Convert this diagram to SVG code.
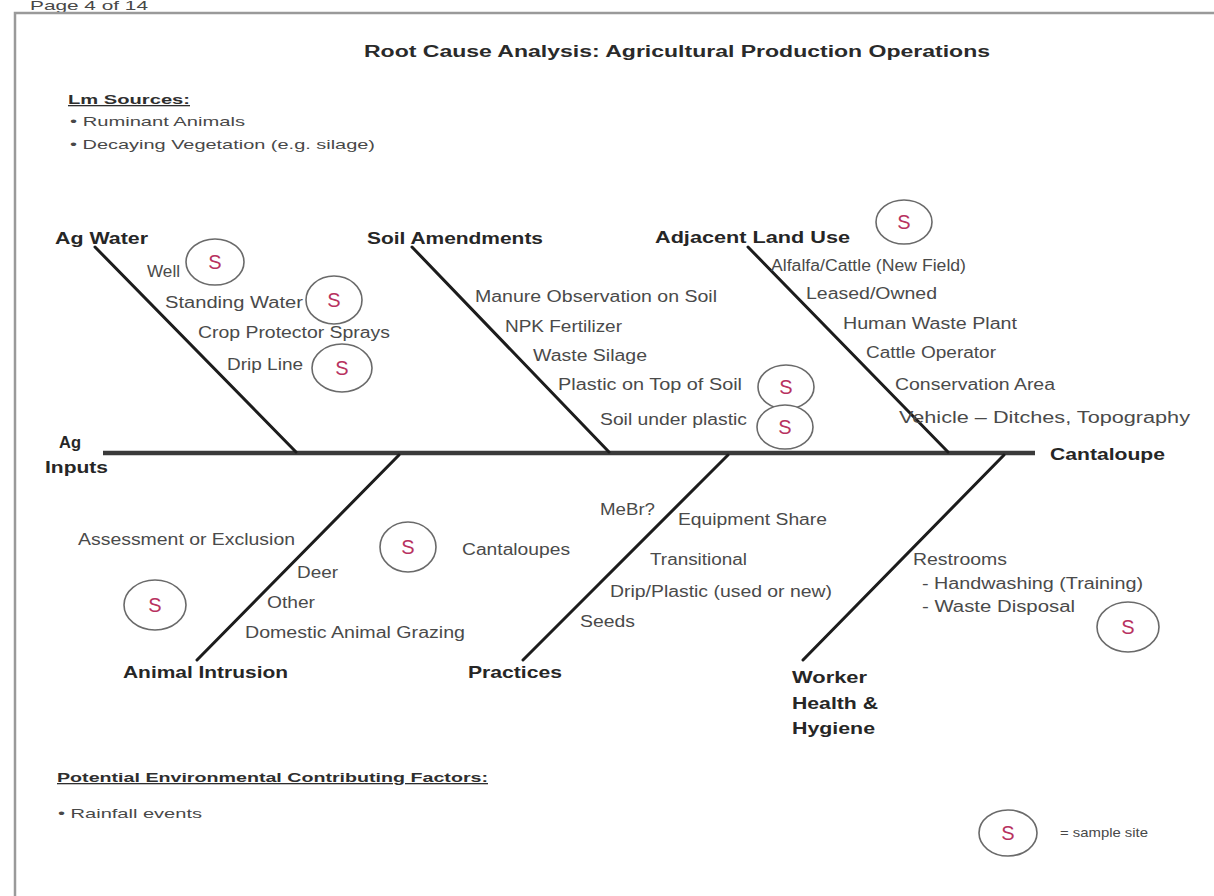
<svg xmlns="http://www.w3.org/2000/svg" width="1214" height="896" viewBox="0 0 1214 896">
<defs>
<style>
.bg{fill:#ffffff}
.frame{fill:none;stroke:#9a9a9a;stroke-width:2.5}
.spine{stroke:#3a3a3a;stroke-width:4.5;fill:none}
.bone{stroke:#1c1c1c;stroke-width:3;stroke-linecap:round;fill:none}
.title{font-family:"Liberation Sans",Arial,sans-serif;font-weight:bold;font-size:16px;fill:#2a2a2a}
.cat{font-family:"Liberation Sans",Arial,sans-serif;font-weight:bold;font-size:17px;fill:#262626}
.item{font-family:"Liberation Sans",Arial,sans-serif;font-size:16px;fill:#4a4a4a}
.note{font-family:"Liberation Sans",Arial,sans-serif;font-size:13px;fill:#484848}
.head{font-family:"Liberation Sans",Arial,sans-serif;font-weight:bold;font-size:13px;fill:#2e2e2e;text-decoration:underline}
.ring{fill:#ffffff;stroke:#6a6a6a;stroke-width:1.6}
.s{font-family:"Liberation Sans",Arial,sans-serif;font-size:20px;fill:#b8325f;text-anchor:middle}
</style>
</defs>
<rect class="bg" x="0" y="0" width="1214" height="896"/>
<text class="note" x="30" y="10" font-size="10" textLength="118" lengthAdjust="spacingAndGlyphs" fill="#777">Page 4 of 14</text>
<path class="frame" d="M15,896 V13 H1214"/>

<g id="title">
<text class="title" x="364" y="57" textLength="626" lengthAdjust="spacingAndGlyphs">Root Cause Analysis:  Agricultural Production Operations</text>
</g>

<g id="lm-sources">
<text class="head" x="68" y="104" textLength="122" lengthAdjust="spacingAndGlyphs">Lm Sources:</text>
<text class="note" x="70" y="126" textLength="175" lengthAdjust="spacingAndGlyphs">•  Ruminant Animals</text>
<text class="note" x="70" y="149" textLength="305" lengthAdjust="spacingAndGlyphs">•  Decaying Vegetation (e.g. silage)</text>
</g>

<g id="connectors">
<path class="spine" d="M103,453 H1035"/>
<line class="bone" x1="95" y1="247" x2="296" y2="452"/>
<line class="bone" x1="412" y1="247" x2="609" y2="452"/>
<line class="bone" x1="748" y1="247" x2="948" y2="452"/>
<line class="bone" x1="399" y1="455" x2="197" y2="660"/>
<line class="bone" x1="728" y1="455" x2="523" y2="660"/>
<line class="bone" x1="1004" y1="455" x2="803" y2="660"/>
</g>

<g id="ag-inputs">
<text class="cat" x="59" y="448" textLength="22" lengthAdjust="spacingAndGlyphs">Ag</text>
<text class="cat" x="45" y="473" textLength="63" lengthAdjust="spacingAndGlyphs">Inputs</text>
</g>

<g id="cantaloupe">
<text class="cat" x="1050" y="460" textLength="115" lengthAdjust="spacingAndGlyphs">Cantaloupe</text>
</g>

<g id="ag-water">
<text class="cat" x="55" y="244" textLength="93" lengthAdjust="spacingAndGlyphs">Ag Water</text>
<text class="item" x="147" y="277" textLength="33" lengthAdjust="spacingAndGlyphs">Well</text>
<text class="item" x="165" y="308" textLength="138" lengthAdjust="spacingAndGlyphs">Standing Water</text>
<text class="item" x="198" y="338" textLength="192" lengthAdjust="spacingAndGlyphs">Crop Protector Sprays</text>
<text class="item" x="227" y="370" textLength="76" lengthAdjust="spacingAndGlyphs">Drip Line</text>
<ellipse class="ring" cx="215" cy="262" rx="29" ry="23"/><text class="s" x="215" y="269">S</text>
<ellipse class="ring" cx="334" cy="300" rx="28" ry="24"/><text class="s" x="334" y="307">S</text>
<ellipse class="ring" cx="342" cy="368" rx="30" ry="24"/><text class="s" x="342" y="375">S</text>
</g>

<g id="soil-amendments">
<text class="cat" x="367" y="244" textLength="176" lengthAdjust="spacingAndGlyphs">Soil Amendments</text>
<text class="item" x="475" y="302" textLength="242" lengthAdjust="spacingAndGlyphs">Manure Observation on Soil</text>
<text class="item" x="505" y="332" textLength="117" lengthAdjust="spacingAndGlyphs">NPK Fertilizer</text>
<text class="item" x="533" y="361" textLength="114" lengthAdjust="spacingAndGlyphs">Waste Silage</text>
<text class="item" x="558" y="390" textLength="184" lengthAdjust="spacingAndGlyphs">Plastic on Top of Soil</text>
<text class="item" x="600" y="425" textLength="147" lengthAdjust="spacingAndGlyphs">Soil under plastic</text>
<ellipse class="ring" cx="786" cy="387" rx="28" ry="22"/><text class="s" x="786" y="394">S</text>
<ellipse class="ring" cx="785" cy="427" rx="28" ry="22"/><text class="s" x="785" y="434">S</text>
</g>

<g id="adjacent-land-use">
<text class="cat" x="655" y="243" textLength="195" lengthAdjust="spacingAndGlyphs">Adjacent Land Use</text>
<ellipse class="ring" cx="904" cy="222" rx="28" ry="22"/><text class="s" x="904" y="229">S</text>
<text class="item" x="771" y="271" textLength="195" lengthAdjust="spacingAndGlyphs">Alfalfa/Cattle (New Field)</text>
<text class="item" x="806" y="299" textLength="131" lengthAdjust="spacingAndGlyphs">Leased/Owned</text>
<text class="item" x="843" y="329" textLength="174" lengthAdjust="spacingAndGlyphs">Human Waste Plant</text>
<text class="item" x="866" y="358" textLength="130" lengthAdjust="spacingAndGlyphs">Cattle Operator</text>
<text class="item" x="895" y="390" textLength="160" lengthAdjust="spacingAndGlyphs">Conservation Area</text>
<text class="item" x="899" y="423" textLength="291" lengthAdjust="spacingAndGlyphs">Vehicle – Ditches, Topography</text>
</g>

<g id="animal-intrusion">
<text class="cat" x="123" y="678" textLength="165" lengthAdjust="spacingAndGlyphs">Animal Intrusion</text>
<text class="item" x="78" y="545" textLength="217" lengthAdjust="spacingAndGlyphs">Assessment or Exclusion</text>
<text class="item" x="297" y="578" textLength="41" lengthAdjust="spacingAndGlyphs">Deer</text>
<text class="item" x="267" y="608" textLength="48" lengthAdjust="spacingAndGlyphs">Other</text>
<text class="item" x="245" y="638" textLength="220" lengthAdjust="spacingAndGlyphs">Domestic Animal Grazing</text>
<ellipse class="ring" cx="155" cy="605" rx="31" ry="25"/><text class="s" x="155" y="612">S</text>
</g>

<g id="practices">
<text class="cat" x="468" y="678" textLength="94" lengthAdjust="spacingAndGlyphs">Practices</text>
<ellipse class="ring" cx="408" cy="547" rx="28" ry="25"/><text class="s" x="408" y="554">S</text>
<text class="item" x="462" y="555" textLength="108" lengthAdjust="spacingAndGlyphs">Cantaloupes</text>
<text class="item" x="600" y="515" textLength="55" lengthAdjust="spacingAndGlyphs">MeBr?</text>
<text class="item" x="678" y="525" textLength="149" lengthAdjust="spacingAndGlyphs">Equipment Share</text>
<text class="item" x="650" y="565" textLength="97" lengthAdjust="spacingAndGlyphs">Transitional</text>
<text class="item" x="610" y="597" textLength="222" lengthAdjust="spacingAndGlyphs">Drip/Plastic (used or new)</text>
<text class="item" x="580" y="627" textLength="55" lengthAdjust="spacingAndGlyphs">Seeds</text>
</g>

<g id="worker-health-hygiene">
<text class="cat" x="792" y="683" textLength="75" lengthAdjust="spacingAndGlyphs">Worker</text>
<text class="cat" x="792" y="709" textLength="86" lengthAdjust="spacingAndGlyphs">Health &amp;</text>
<text class="cat" x="792" y="734" textLength="83" lengthAdjust="spacingAndGlyphs">Hygiene</text>
<text class="item" x="913" y="565" textLength="94" lengthAdjust="spacingAndGlyphs">Restrooms</text>
<text class="item" x="922" y="589" textLength="221" lengthAdjust="spacingAndGlyphs">- Handwashing (Training)</text>
<text class="item" x="922" y="612" textLength="153" lengthAdjust="spacingAndGlyphs">- Waste Disposal</text>
<ellipse class="ring" cx="1128" cy="627" rx="31" ry="25"/><text class="s" x="1128" y="634">S</text>
</g>

<g id="environmental-factors">
<text class="head" x="57" y="782" font-size="14" textLength="431" lengthAdjust="spacingAndGlyphs">Potential Environmental Contributing Factors:</text>
<text class="note" x="58" y="818" textLength="144" lengthAdjust="spacingAndGlyphs">•  Rainfall events</text>
</g>

<g id="legend">
<ellipse class="ring" cx="1008" cy="833" rx="29" ry="23"/><text class="s" x="1008" y="840">S</text>
<text class="note" x="1060" y="837" font-size="10" textLength="88" lengthAdjust="spacingAndGlyphs">= sample site</text>
</g>
</svg>
